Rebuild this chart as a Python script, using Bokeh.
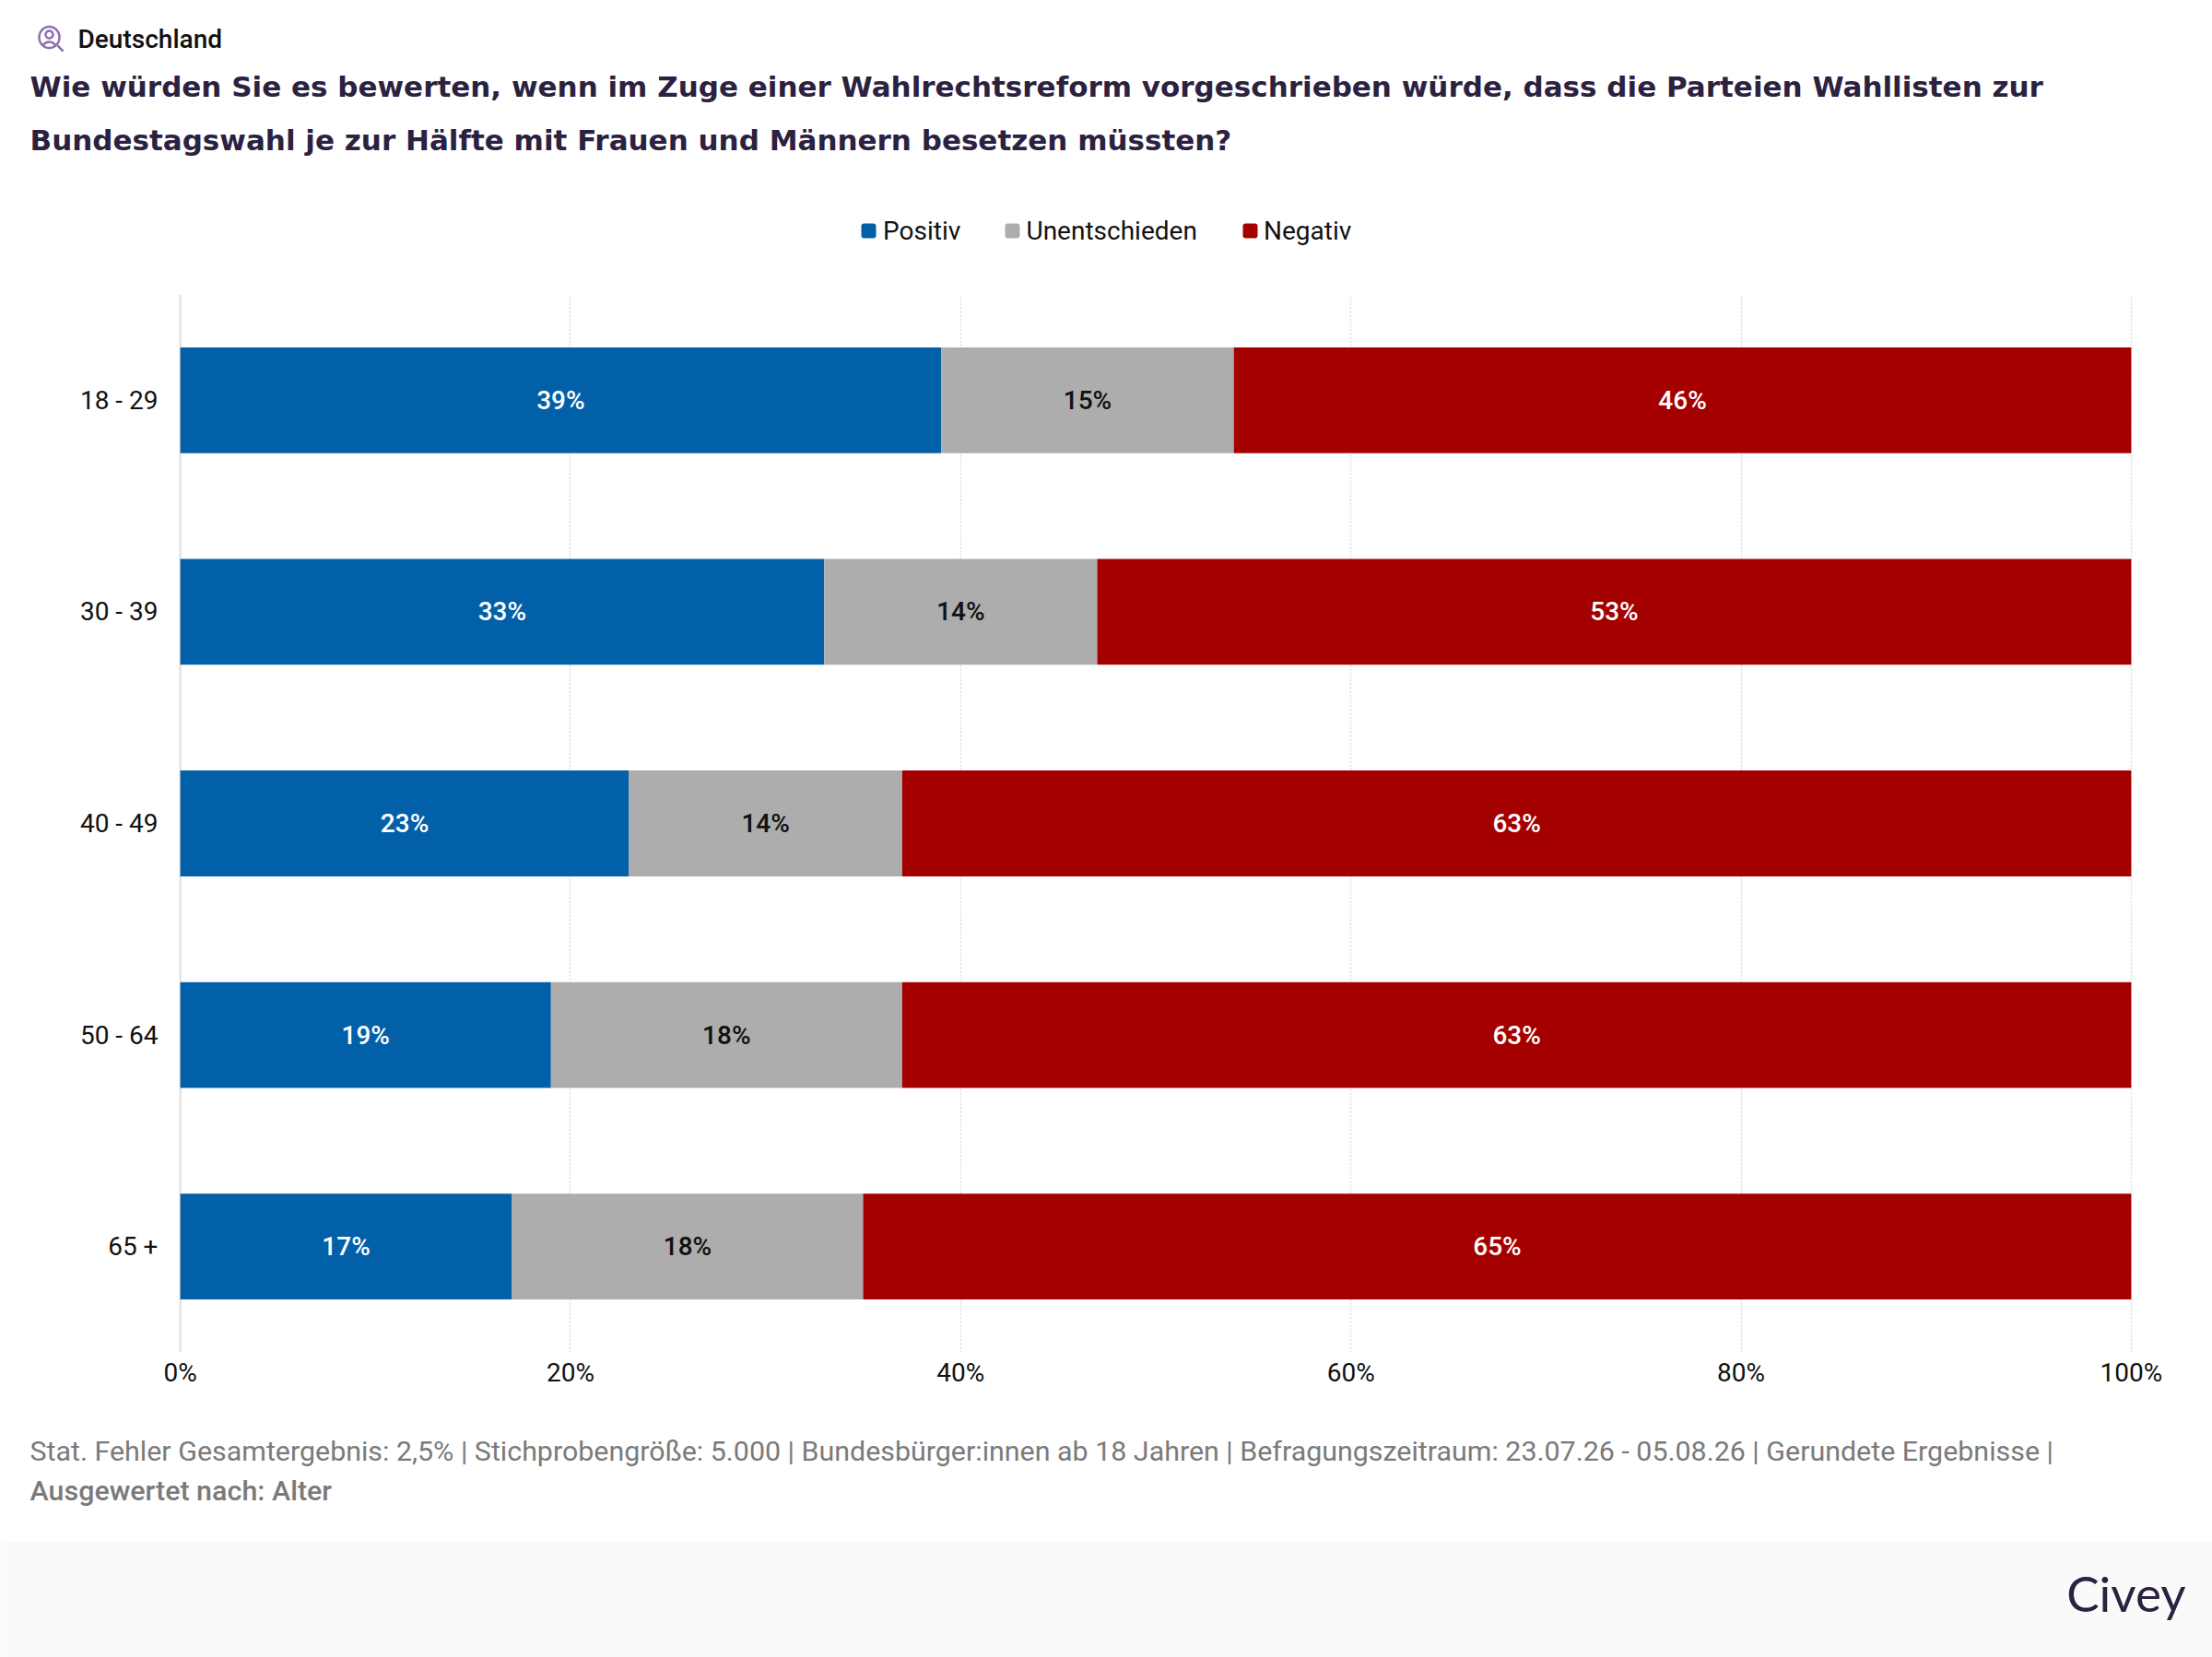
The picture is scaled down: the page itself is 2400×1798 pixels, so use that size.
import numpy as np
from bokeh.plotting import figure
from bokeh.layouts import column
from bokeh.models import ColumnDataSource, FactorRange, Range1d, FixedTicker
from bokeh.core.properties import value
from bokeh.embed import file_html
from bokeh.resources import INLINE

# ---- data ----
ages = ["18 - 29", "30 - 39", "40 - 49", "50 - 64", "65 +"]
positiv = [39, 33, 23, 19, 17]
unentschieden = [15, 14, 14, 18, 18]
negativ = [46, 53, 63, 63, 65]
series_names = ["Positiv", "Unentschieden", "Negativ"]
series_colors = ["#0260A8", "#ADADAD", "#A50000"]
label_colors = ["#FFFFFF", "#111111", "#FFFFFF"]
x_ticks = [0, 20, 40, 60, 80, 100]
region = "Deutschland"
title_lines = ["Wie würden Sie es bewerten, wenn im Zuge einer Wahlrechtsreform vorgeschrieben würde, dass die Parteien Wahllisten zur",
               "Bundestagswahl je zur Hälfte mit Frauen und Männern besetzen müssten?"]
foot_1 = "Stat. Fehler Gesamtergebnis: 2,5% | Stichprobengröße: 5.000 | Bundesbürger:innen ab 18 Jahren | Befragungszeitraum: 23.07.26 - 05.08.26 | Gerundete Ergebnisse |"
foot_2 = "Ausgewertet nach: Alter"
brand = "Civey"

# ---- layout (page px) ----
W, H = 2400, 1798
TOP_H = 318      # header figure: 0..318
MID_END = 1540   # chart figure: 318..1540
BAND = 1672      # footer band start
DARK = "#2B2140"
GREY = "#7A7A7A"
INK = "#111111"


def pixel_figure(y0, y1):
    f = figure(width=W, height=y1 - y0, output_backend="svg", toolbar_location=None,
               x_range=Range1d(0, W), y_range=Range1d(y1, y0), min_border=0, frame_align=False,
               outline_line_color=None, x_axis_location=None, y_axis_location=None)
    f.grid.visible = False
    f.background_fill_color = "#FFFFFF"
    f.border_fill_color = "#FFFFFF"
    return f


def put(f, txt, X, Y, size, color, font="Roboto", style="normal", align="left"):
    f.text(x=[X], y=[Y], text=[txt], text_align=align, text_baseline="middle", text_font=value(font),
           text_font_size=size, text_font_style=style, text_color=color)


# ---- header ----
h = pixel_figure(0, TOP_H)
put(h, region, 84, 42, "28px", INK, font="Roboto Medium")
put(h, title_lines[0], 32, 93, "31px", DARK, font="DejaVu Sans", style="bold")
put(h, title_lines[1], 32, 151, "31px", DARK, font="DejaVu Sans", style="bold")

# icon
t = np.linspace(0, 2 * np.pi, 60)
ICON = "#8E6FAE"
h.line(53 + 11 * np.cos(t), 40 + 11.5 * np.sin(t), line_color=ICON, line_width=2.5)
h.line(53 + 4 * np.cos(t), 37 + 4 * np.sin(t), line_color=ICON, line_width=2.5)
a = np.linspace(np.pi * 1.1, np.pi * 1.9, 14)
h.line(53 + 7 * np.cos(a), 51 + 6 * np.sin(a), line_color=ICON, line_width=2.5)
h.line([62, 68], [49, 55], line_color=ICON, line_width=2.5)

# legend
swatch_x = [934, 1090, 1348]
text_x = [957.5, 1113, 1370.5]
for sx, tx, name, col in zip(swatch_x, text_x, series_names, series_colors):
    h.quad(left=[sx], right=[sx + 16], top=[242], bottom=[258], fill_color=col, line_color=None, border_radius=3)
    put(h, name, tx, 250, "28px", INK)

# ---- chart ----
FL, FR = 193, 2314
p = figure(width=W, height=MID_END - TOP_H, output_backend="svg", toolbar_location=None, frame_align=False,
           x_range=Range1d(-0.1, 100.1), y_range=FactorRange(factors=ages[::-1]),
           min_border_left=FL, min_border_right=W - FR, min_border_top=1, min_border_bottom=MID_END - 1467)
p.outline_line_color = None
p.background_fill_color = "#FFFFFF"
p.border_fill_color = "#FFFFFF"
p.ygrid.grid_line_color = None
p.xgrid.ticker = FixedTicker(ticks=x_ticks[1:])
p.xgrid.grid_line_color = "#DCDCDC"
p.xgrid.grid_line_dash = "2 2"
p.xgrid.grid_line_width = 1.5
p.segment(x0=[0], x1=[0], y0=[(ages[-1], -0.5)], y1=[(ages[0], 0.5)], line_color="#DDDDDD", line_width=2)

p.xaxis.ticker = FixedTicker(ticks=x_ticks)
p.xaxis.major_label_overrides = {t_: f"{t_}%" for t_ in x_ticks}
for ax in (p.xaxis, p.yaxis):
    ax.axis_line_color = None
    ax.major_tick_line_color = None
    ax.minor_tick_line_color = None
    ax.major_tick_out = 0
    ax.major_tick_in = 0
    ax.major_label_text_font = "Roboto"
    ax.major_label_text_font_size = "28px"
    ax.major_label_text_color = INK
p.xaxis.major_label_standoff = 5
p.yaxis.major_label_standoff = 22

src = ColumnDataSource(dict(age=ages, Positiv=positiv, Unentschieden=unentschieden, Negativ=negativ))
p.hbar_stack(series_names, y="age", height=0.5, color=series_colors, line_color=None, source=src)

all_series = [positiv, unentschieden, negativ]
for i, vals in enumerate(all_series):
    left = [sum(s[k] for s in all_series[:i]) for k in range(len(ages))]
    mid = [l + v / 2 for l, v in zip(left, vals)]
    p.text(x=mid, y=ages, text=[f"{v}%" for v in vals], text_align="center", text_baseline="middle",
           text_font=value("Roboto Medium"), text_font_size="28px", text_color=label_colors[i])

# ---- notes + footer band ----
f = pixel_figure(MID_END, H)
f.quad(left=[0], right=[W], top=[BAND], bottom=[H], fill_color="#FAFAFA", line_color=None)
put(f, foot_1, 32, 1574, "30.4px", GREY)
put(f, foot_2, 32, 1617, "30.4px", GREY, font="Roboto Medium")
put(f, brand, 2371, 1728, "53px", DARK, font="Lato", align="right")

open("out.html", "w").write(file_html(column(h, p, f, spacing=0), INLINE))
